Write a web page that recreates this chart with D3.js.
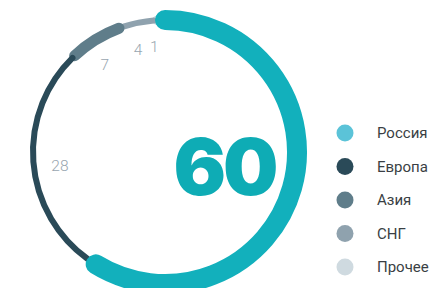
<!DOCTYPE html>
<html>
<head>
<meta charset="utf-8">
<script src="https://cdn.jsdelivr.net/npm/d3@7"></script>
<style>
  html, body { margin: 0; padding: 0; background: #fff; }
  svg { display: block; }
</style>
</head>
<body>
<svg id="chart"></svg>
<script>
// categories and values (percent)
var categories = ["Россия", "Европа", "Азия", "СНГ", "Прочее"];
var values = [60, 28, 7, 4, 1];
var ringColors = ["#12b0bc", "#2a4a58", "#5f7d8a", "#8fa2ae", "#cfdae0"];
var legendColors = ["#5bc3d8", "#2a4a58", "#5f7d8a", "#8fa2ae", "#cfdae0"];
var strokeWidths = [20, 6, 11, 6, 9];
var centerLabel = "60";

var width = 445, height = 288;
var cx = 165, cy = 152, radius = 132;

var svg = d3.select("#chart").attr("width", width).attr("height", height);

var pie = d3.pie().sort(null).value(function(d) { return d; });
var arcs = pie(values);

var g = svg.append("g").attr("transform", "translate(" + cx + "," + cy + ")");

// draw in reverse so the earlier segments overlap the later ones
// round cap at the end is kept inside the segment
var order = d3.range(arcs.length).reverse();
g.selectAll("path.seg")
  .data(order)
  .enter().append("path")
  .attr("class", "seg")
  .attr("d", function(i) {
    var a = arcs[i];
    var capAngle = (strokeWidths[i] / 2) / radius;
    var p = d3.path();
    p.arc(0, 0, radius, a.startAngle - Math.PI / 2, a.endAngle - capAngle - Math.PI / 2);
    return p.toString();
  })
  .attr("fill", "none")
  .attr("stroke", function(i) { return ringColors[i]; })
  .attr("stroke-width", function(i) { return strokeWidths[i]; })
  .attr("stroke-linecap", "round");

// value labels inside the ring (skip the main one)
var labelR = 106, labelShift = -4 * Math.PI / 180;
g.selectAll("text.val")
  .data(arcs.slice(1))
  .enter().append("text")
  .attr("class", "val")
  .attr("x", function(a) { return labelR * Math.sin((a.startAngle + a.endAngle) / 2 + labelShift); })
  .attr("y", function(a) { return -labelR * Math.cos((a.startAngle + a.endAngle) / 2 + labelShift); })
  .attr("dy", "0.35em")
  .attr("text-anchor", "middle")
  .attr("font-family", "Roboto, 'Noto Sans', sans-serif")
  .attr("font-weight", 300)
  .attr("font-size", 15.5)
  .attr("fill", "#98a6b0")
  .text(function(a) { return a.data; });

// big number
svg.append("text")
  .attr("x", 224.5)
  .attr("y", 195)
  .attr("text-anchor", "middle")
  .attr("font-family", "Inter, Lato, 'DejaVu Sans', sans-serif")
  .attr("font-weight", 900)
  .attr("font-size", 78)
  .attr("letter-spacing", -3)
  .attr("fill", "#0eacb5")
  .text(centerLabel);

// legend
var legendY = d3.scalePoint().domain(categories).range([133, 267]);
var legend = svg.append("g").selectAll("g")
  .data(categories)
  .enter().append("g")
  .attr("transform", function(d) { return "translate(345," + legendY(d) + ")"; });

legend.append("circle")
  .attr("r", 8.5)
  .attr("fill", function(d, i) { return legendColors[i]; });

legend.append("text")
  .attr("x", 32)
  .attr("dy", "0.35em")
  .attr("font-family", "Roboto, 'Noto Sans', sans-serif")
  .attr("font-size", 15)
  .attr("fill", "#3a3f44")
  .text(function(d) { return d; });
</script>
</body>
</html>
